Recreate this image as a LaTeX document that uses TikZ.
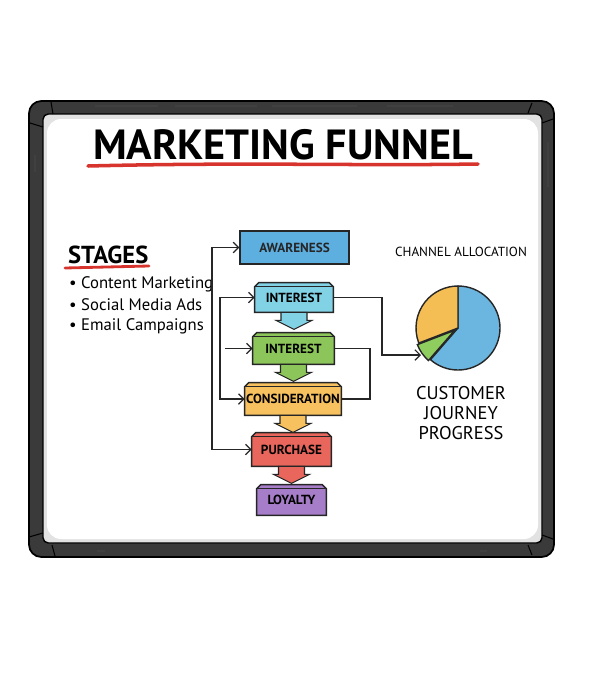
\documentclass[tikz,border=0pt]{standalone}
\usepackage{fontspec}
\setmainfont{PT Sans}
\usetikzlibrary{arrows.meta,calc,backgrounds}

\definecolor{frame}{HTML}{3A3A3A}
\definecolor{rim}{HTML}{E2E2E2}
\definecolor{marker}{HTML}{D8342E}
\definecolor{awarefill}{HTML}{5DAFE0}
\definecolor{interfill}{HTML}{82D2E6}
\definecolor{greenfill}{HTML}{8CC55A}
\definecolor{yellowfill}{HTML}{F6C15E}
\definecolor{redfill}{HTML}{E8665C}
\definecolor{purplefill}{HTML}{A67DC8}
\definecolor{pieblue}{HTML}{6BB6E0}
\definecolor{pieorange}{HTML}{F5BE55}
\definecolor{piegreen}{HTML}{8FCE5E}

\tikzset{
  stagebox/.style={inner sep=0pt, font=\fontsize{7.5}{9}\selectfont\bfseries},
  boxline/.style={black!85, line width=0.8pt},
  flow/.style={black!85, line width=0.7pt},
  bullet/.style={anchor=west, font=\fontsize{9.5}{11}\selectfont},
  >={Straight Barb[length=3pt,width=6pt]}
}

\begin{document}
\begin{tikzpicture}[x=0.02cm,y=-0.02cm]
\useasboundingbox (0,0) rectangle (600,700);

% title
\node[font=\fontsize{24}{28}\selectfont\bfseries] (title) at (283,145) {MARKETING FUNNEL};
\draw[marker, line width=2pt, line cap=round] (88,166) .. controls (250,162) and (350,166) .. (478,164);

% stages list
\node[anchor=west, font=\fontsize{14}{16}\selectfont\bfseries] (stages) at (62,255) {STAGES};
\draw[marker, line width=1.6pt, line cap=round] (65,268) -- (149,266);
\node[bullet] (b1) at (63,284) {\textbullet\ Content Marketing};
\node[bullet] (b2) at (63,305) {\textbullet\ Social Media Ads};
\node[bullet] (b3) at (63,326) {\textbullet\ Email Campaigns};

% funnel
\node[stagebox, boxline, draw, fill=awarefill, minimum width=2.18cm, minimum height=0.66cm] (aware) at (294.5,247.5) {AWARENESS};
\node[stagebox, minimum width=1.56cm, minimum height=0.58cm] (int1) at (294,297.5) {INTEREST};
\node[stagebox, minimum width=1.62cm, minimum height=0.62cm] (int2) at (293.5,348.5) {INTEREST};
\node[stagebox, minimum width=1.92cm, minimum height=0.64cm] (consid) at (293,399) {CONSIDERATION};
\node[stagebox, minimum width=1.58cm, minimum height=0.66cm] (purch) at (291.5,449.5) {PURCHASE};
\node[stagebox, minimum width=1.38cm, minimum height=0.60cm] (loyal) at (291.5,500) {LOYALTY};

\begin{scope}[on background layer]
% whiteboard
\draw[black, line width=1pt, fill=frame, rounded corners=7pt] (29,101) rectangle (554,557);
\draw[black, line width=0.8pt, fill=rim, rounded corners=3pt] (43,114) rectangle (542,543);
\fill[white, rounded corners=8pt] (47,119) rectangle (538,539);
\foreach \xa/\ya/\xb/\yb in {30/123/43/127, 51/102/53/114, 532/103/528/113, 542/123/553/119,
    542/535/553/539, 528/545/532/555, 29/537/43/533, 52/545/55/556}
  \draw[black, line width=0.6pt] (\xa,\ya) -- (\xb,\yb);
\foreach \xa/\ya/\xb/\yb in {95/106/158/106, 175/106/257/106, 272/106/357/106, 387/106/453/106,
    35/155/35/172, 548/142/548/187, 97/551/105/551, 480/551/487/551}
  \draw[black!75, line width=0.6pt] (\xa,\ya) -- (\xb,\yb);
% bevelled boxes
\foreach \n/\c in {int1/interfill, int2/greenfill, consid/yellowfill, purch/redfill, loyal/purplefill} {
  \draw[boxline, fill=\c] (\n.south west) -- ($(\n.north west)+(0,4)$) -- ($(\n.north west)+(4,0)$)
    -- ($(\n.north east)+(-4,0)$) -- ($(\n.north east)+(0,4)$) -- (\n.south east) -- cycle;
  \draw[black!85, line width=0.5pt] ($(\n.north west)+(0,4)$) -- ($(\n.north east)+(0,4)$);
}
\end{scope}

\foreach \a/\c in {int1/interfill, int2/greenfill, consid/yellowfill, purch/redfill}
  \draw[black!85, line width=0.6pt, fill=\c] (\a.south) ++(-13,0) -- ++(0,8) -- ++(-5,0) -- ++(18,9) -- ++(18,-9) -- ++(-5,0) -- ++(0,-8) -- cycle;

% connectors
\coordinate (spineA) at (212,300);
\coordinate (spineB) at (220,300);
\coordinate (spineC) at (225,300);
\coordinate (spineD) at (370,300);
\coordinate (spineE) at (382,300);
\coordinate (pieIn) at (421,355);
\draw[flow, <->] (aware.west) -- (aware.west -| spineA) |- (purch.west);
\draw[flow, <->] (int1.west) -- (int1.west -| spineB) |- (consid.west);
\draw[flow, ->] (int2.west -| spineC) -- (int2.west);
\draw[flow] (int2.east) -- (int2.east -| spineD) |- (consid.east);
\draw[flow, ->] (int1.east) -- (int1.east -| spineE) |- (pieIn);

% pie
\begin{scope}[shift={(458,328)}, yscale=-1]
\draw[black!85, line width=0.8pt, fill=pieblue] (0,0) -- (90:42) arc[start angle=90, end angle=-131, radius=42] -- cycle;
\draw[black!85, line width=0.8pt, fill=pieorange] (0,0) -- (201:42) arc[start angle=201, end angle=90, radius=42] -- cycle;
\draw[black!85, line width=0.8pt, fill=piegreen, shift={(215:4)}] (0,0) -- (229:40) arc[start angle=229, end angle=201, radius=40] -- cycle;
\end{scope}
\node[font=\fontsize{7.5}{9}\selectfont] (chan) at (461,252) {CHANNEL ALLOCATION};
\node[align=center, font=\fontsize{10.5}{11.5}\selectfont] (journey) at (461,413) {CUSTOMER\\JOURNEY\\PROGRESS};
\end{tikzpicture}
\end{document}
